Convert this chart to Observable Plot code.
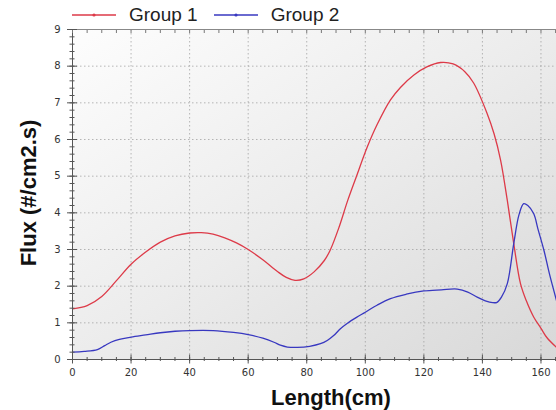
<!DOCTYPE html>
<html><head><meta charset="utf-8">
<script src="https://cdn.jsdelivr.net/npm/d3@7"></script>
<script src="https://cdn.jsdelivr.net/npm/@observablehq/plot@0.6"></script>
<style>
body{margin:0;background:#fff;}
#wrap{position:relative;width:556px;height:410px;overflow:hidden;background:#fff;}
#legend{position:absolute;top:4px;left:72px;display:flex;align-items:center;font-family:"Liberation Sans",Arial,sans-serif;font-size:19px;color:#222;line-height:22px;}
#legend .item{display:flex;align-items:center;}
#legend .item + .item{margin-left:16px;}
#legend svg{margin-right:13px;}
.title{position:absolute;font-family:"Liberation Sans",Arial,sans-serif;font-weight:bold;font-size:22px;line-height:22px;color:#111;text-align:center;width:200px;white-space:nowrap;}
</style>
</head><body>
<div id="wrap"></div>
<script>
// Series names and colours
const seriesNames = ["Group 1", "Group 2"];
const seriesColors = ["#dd3a48", "#3838c0"];

// Group 1 (red) readings: length (cm) and flux
const g1Length = [0,5,10,15,20,25,30,35,40,44,48,52,56,60,65,70,73,76,79,82.5,86,88,91,94,97,100.7,104,108.6,112,116.6,121,125.7,130,134,137,141.6,144,146.2,148.5,150.7,153,155,157.5,160,162,165.3];
const g1Flux   = [1.38,1.47,1.72,2.15,2.6,2.93,3.2,3.37,3.45,3.46,3.42,3.32,3.18,3.0,2.72,2.40,2.24,2.16,2.2,2.39,2.7,2.98,3.6,4.34,5.0,5.8,6.4,7.08,7.42,7.76,7.98,8.1,8.06,7.85,7.54,6.71,6.15,5.44,4.34,3.16,2.07,1.6,1.16,0.85,0.6,0.33];

// Group 2 (blue) readings
const g2Length = [0,4,8.5,11,13.1,16,20,25,30,35,40,48,55,60,65,68.8,71,73.4,76.8,81,84.7,87,89.3,91.5,93.9,97,100,104,108.6,114,120,126,131.4,135,138.2,141,143.5,145,146.5,148.5,150.7,152.5,154.1,155.5,157.5,159,161,163,165.3];
const g2Flux   = [0.2,0.22,0.27,0.38,0.47,0.55,0.61,0.67,0.73,0.77,0.79,0.79,0.74,0.68,0.58,0.47,0.39,0.34,0.33,0.36,0.43,0.52,0.66,0.84,0.99,1.15,1.29,1.48,1.66,1.78,1.87,1.9,1.92,1.84,1.7,1.6,1.55,1.56,1.7,2.07,3.16,3.95,4.25,4.2,3.98,3.55,2.98,2.3,1.61];

// Ticks
const xMajor = [0,20,40,60,80,100,120,140,160];
const xMinor = d3.range(0, 166, 5);
const yMajor = [0,1,2,3,4,5,6,7,8,9];
const yMinor = d3.range(0, 9.001, 0.2);

const xTitle = "Length(cm)";
const yTitle = "Flux (#/cm2.s)";

const g1 = g1Length.map((x, i) => ({x, y: g1Flux[i]}));
const g2 = g2Length.map((x, i) => ({x, y: g2Flux[i]}));

const axisColor = "#555";
const tickFont = {fontFamily: "DejaVu Sans", fontSize: 10, fill: "#333"};

const chart = Plot.plot({
  width: 556, height: 410,
  marginLeft: 72, marginRight: 0, marginTop: 29, marginBottom: 51,
  x: {domain: [0, 165.3]},
  y: {domain: [0, 9]},
  style: {background: "transparent", fontFamily: "DejaVu Sans", fontSize: "10px", overflow: "visible"},
  marks: [
    Plot.frame({fill: "url(#bg)", stroke: null}),
    Plot.gridX(xMajor.slice(1), {stroke: "#9a9a9a", strokeOpacity: 0.9, strokeDasharray: "1.5,2.5", strokeWidth: 0.8}),
    Plot.gridY(yMajor.slice(1, -1), {stroke: "#9a9a9a", strokeOpacity: 0.9, strokeDasharray: "1.5,2.5", strokeWidth: 0.8}),
    Plot.line(g1, {x: "x", y: "y", stroke: seriesColors[0], strokeWidth: 1.3, curve: "catmull-rom"}),
    Plot.line(g2, {x: "x", y: "y", stroke: seriesColors[1], strokeWidth: 1.3, curve: "catmull-rom"}),
    Plot.ruleX([0], {stroke: axisColor}),
    Plot.ruleY([0], {stroke: axisColor}),
    Plot.ruleY([9], {stroke: "#888"}),
    // y axis: major ticks crossing, minor ticks crossing
    Plot.axisY(yMajor, {anchor: "left", tickSize: 5, tickPadding: 7, stroke: axisColor, ...tickFont, label: null}),
    Plot.axisY(yMajor, {anchor: "left", tickSize: -5, text: null, stroke: axisColor, label: null}),
    Plot.axisY(yMinor, {anchor: "left", tickSize: 2.5, text: null, stroke: axisColor, label: null}),
    Plot.axisY(yMinor, {anchor: "left", tickSize: -2.5, text: null, stroke: axisColor, label: null}),
    // x axis
    Plot.axisX(xMajor, {anchor: "bottom", tickSize: 4.5, tickPadding: 4.5, stroke: axisColor, ...tickFont, label: null}),
    Plot.axisX(xMajor, {anchor: "bottom", tickSize: -4.5, text: null, stroke: axisColor, label: null}),
    Plot.axisX(xMinor, {anchor: "bottom", tickSize: 2, text: null, stroke: axisColor, label: null}),
    Plot.axisX(xMinor, {anchor: "bottom", tickSize: -2, text: null, stroke: axisColor, label: null}),
    // top border minor ticks
    Plot.axisX(xMinor, {anchor: "top", tickSize: -3, text: null, stroke: "#777", label: null})
  ]
});

// background gradient
const defs = d3.select(chart).insert("defs", ":first-child");
const grad = defs.append("linearGradient").attr("id", "bg").attr("x1", 0).attr("y1", 0).attr("x2", 1).attr("y2", 1);
grad.append("stop").attr("offset", 0).attr("stop-color", "#fdfdfd");
grad.append("stop").attr("offset", 0.5).attr("stop-color", "#ececec");
grad.append("stop").attr("offset", 1).attr("stop-color", "#d8d8d8");

const wrap = document.getElementById("wrap");
wrap.appendChild(chart);

// legend
const legend = document.createElement("div");
legend.id = "legend";
seriesNames.forEach((name, i) => {
  const item = document.createElement("div");
  item.className = "item";
  item.innerHTML = `<svg width="44" height="10"><line x1="0" x2="44" y1="5" y2="5" stroke="${seriesColors[i]}" stroke-width="1.3"/><circle cx="22" cy="5" r="1.6" fill="${seriesColors[i]}"/></svg><span>${name}</span>`;
  legend.appendChild(item);
});
wrap.appendChild(legend);

// axis titles
const xt = document.createElement("div");
xt.className = "title";
xt.textContent = xTitle;
xt.style.left = (331 - 100) + "px";
xt.style.top = "387px";
wrap.appendChild(xt);

const yt = document.createElement("div");
yt.className = "title";
yt.textContent = yTitle;
yt.style.left = (29 - 100) + "px";
yt.style.top = (193 - 11) + "px";
yt.style.transform = "rotate(-90deg)";
wrap.appendChild(yt);
</script>
</body></html>
